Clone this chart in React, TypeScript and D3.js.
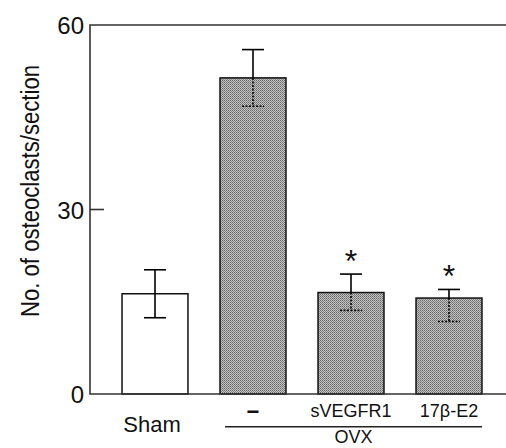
import React, { useRef, useEffect } from 'react'
import * as d3 from 'd3'

// values
const categories = ['Sham', '−', 'sVEGFR1', '17β-E2']
const means = [16.3, 51.4, 16.5, 15.6]
const errHigh = [20.2, 56.0, 19.5, 17.0]
const errLow = [12.4, 46.8, 13.6, 11.8]
const filled = [false, true, true, true]
const significant = [false, false, true, true]
const yTicks = [0, 30, 60]
const groupLabel = 'OVX'
const yLabel = 'No. of osteoclasts/section'

const W = 506
const H = 448
const FONT = 'Liberation Sans, Arial, Helvetica, sans-serif'

const App = () => {
  const svgRef = useRef<SVGSVGElement | null>(null)

  useEffect(() => {
    document.body.style.margin = '0'
    const svg = d3.select(svgRef.current)
    svg.selectAll('*').remove()

    const left = 90
    const top = 25
    const bottom = 394

    const x = d3.scaleBand<string>()
      .domain(categories)
      .range([106, 498])
      .paddingInner(0.327)
      .paddingOuter(0.1635)
    const y = d3.scaleLinear().domain([0, 60]).range([bottom, top])
    const bw = x.bandwidth()

    // halftone-ish fill
    const defs = svg.append('defs')
    const pat = defs.append('pattern')
      .attr('id', 'halftone')
      .attr('width', 2).attr('height', 2)
      .attr('patternUnits', 'userSpaceOnUse')
    pat.append('rect').attr('width', 2).attr('height', 2).attr('fill', '#c0c0c0')
    pat.append('rect').attr('width', 1).attr('height', 1).attr('fill', '#6a6a6a')
    pat.append('rect').attr('x', 1).attr('y', 1).attr('width', 1).attr('height', 1).attr('fill', '#868686')

    // bars
    svg.append('g')
      .selectAll('rect')
      .data(categories)
      .join('rect')
      .attr('x', d => x(d)!)
      .attr('y', (d, i) => y(means[i]))
      .attr('width', bw)
      .attr('height', (d, i) => bottom - y(means[i]))
      .attr('fill', (d, i) => filled[i] ? 'url(#halftone)' : '#fff')
      .attr('stroke', '#111')
      .attr('stroke-width', 1.5)

    // error bars
    const eb = svg.append('g').attr('stroke', '#000').attr('stroke-width', 1.6)
    categories.forEach((c, i) => {
      const cx = x(c)! + bw / 2
      const capW = 11
      eb.append('line')
        .attr('x1', cx).attr('x2', cx)
        .attr('y1', y(errHigh[i])).attr('y2', y(means[i]))
      eb.append('line')
        .attr('x1', cx - capW).attr('x2', cx + capW)
        .attr('y1', y(errHigh[i])).attr('y2', y(errHigh[i]))
      const dash = filled[i] ? '2,1.5' : null
      eb.append('line')
        .attr('x1', cx).attr('x2', cx)
        .attr('y1', y(means[i])).attr('y2', y(errLow[i]))
        .attr('stroke-dasharray', dash)
      eb.append('line')
        .attr('x1', cx - capW).attr('x2', cx + capW)
        .attr('y1', y(errLow[i])).attr('y2', y(errLow[i]))
        .attr('stroke-dasharray', dash)
    })

    // significance marks
    svg.append('g')
      .selectAll('text')
      .data(categories.filter((c, i) => significant[i]))
      .join('text')
      .attr('x', d => x(d)! + bw / 2)
      .attr('y', d => y(errHigh[categories.indexOf(d)]) - 2)
      .attr('text-anchor', 'middle')
      .attr('font-family', FONT)
      .attr('font-size', 32)
      .attr('fill', '#111')
      .text('*')

    // frame
    const frame = svg.append('g').attr('stroke', '#333').attr('stroke-width', 1.6).attr('fill', 'none')
    frame.append('path').attr('d', `M${W},${top}H${left}V${bottom}H${W}`)

    // y axis ticks
    yTicks.forEach(t => {
      if (t !== 0 && t !== 60) {
        frame.append('line').attr('x1', left).attr('x2', left + 14).attr('y1', y(t)).attr('y2', y(t))
      }
    })
    svg.append('g')
      .selectAll('text')
      .data(yTicks)
      .join('text')
      .attr('x', left - 6)
      .attr('y', d => y(d) + 1)
      .attr('dy', '0.35em')
      .attr('text-anchor', 'end')
      .attr('font-family', FONT)
      .attr('font-size', 24)
      .attr('fill', '#111')
      .text(d => d)

    // y label
    svg.append('text')
      .attr('transform', `translate(39,191) rotate(-90)`)
      .attr('text-anchor', 'middle')
      .attr('font-family', FONT)
      .attr('font-size', 25)
      .attr('textLength', 252)
      .attr('lengthAdjust', 'spacingAndGlyphs')
      .attr('fill', '#111')
      .text(yLabel)

    // category labels
    const labelY = [432, 419, 417, 417]
    const labelSize = [22, 22, 18, 18]
    svg.append('g')
      .selectAll('text')
      .data(categories)
      .join('text')
      .attr('x', (d, i) => x(d)! + bw / 2 - (i === 0 ? 3 : 0))
      .attr('y', (d, i) => labelY[i])
      .attr('text-anchor', 'middle')
      .attr('font-family', FONT)
      .attr('font-size', (d, i) => labelSize[i])
      .attr('font-weight', (d, i) => i === 1 ? 'bold' : 'normal')
      .attr('fill', '#111')
      .text(d => d)

    // OVX group
    const g0 = x(categories[1])! + 5
    const g1 = x(categories[3])! + bw
    svg.append('line')
      .attr('x1', g0).attr('x2', g1)
      .attr('y1', 426.7).attr('y2', 426.7)
      .attr('stroke', '#222').attr('stroke-width', 1.5)
    svg.append('text')
      .attr('x', (g0 + g1) / 2)
      .attr('y', 443)
      .attr('text-anchor', 'middle')
      .attr('font-family', FONT)
      .attr('font-size', 18)
      .attr('fill', '#111')
      .text(groupLabel)
  }, [])

  return <svg ref={svgRef} width={W} height={H} style={{ display: 'block', background: '#fff' }} />
}

export default App
